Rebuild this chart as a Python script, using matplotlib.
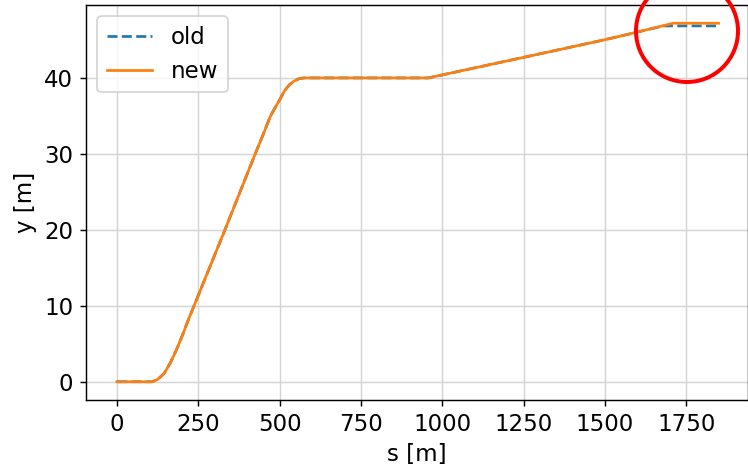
import matplotlib
matplotlib.use("Agg")
import matplotlib.pyplot as plt
from matplotlib.patches import Ellipse

plt.rcParams['font.size'] = 12.7

# track profile
s_old = [0, 108, 125, 145, 163, 183, 203, 220, 237, 332, 425, 450, 471, 485, 500, 515, 530, 545, 560, 575,
         957, 1000, 1249, 1486, 1547, 1680, 1849]
y_old = [0, 0, 0.3, 1.1, 2.4, 4.2, 6.3, 8.2, 10, 20, 30, 32.6, 34.9, 36.0, 37.1, 38.3, 39.1, 39.6, 39.9, 40,
         40, 40.4, 42.7, 44.9, 45.5, 46.85, 46.85]

s_new = [0, 108, 125, 145, 163, 183, 203, 220, 237, 332, 425, 450, 471, 485, 500, 515, 530, 545, 560, 575,
         957, 1000, 1249, 1486, 1547, 1710, 1849]
y_new = [0, 0, 0.3, 1.1, 2.4, 4.2, 6.3, 8.2, 10, 20, 30, 32.6, 34.9, 36.0, 37.1, 38.3, 39.1, 39.6, 39.9, 40,
         40, 40.4, 42.7, 44.9, 45.5, 47.2, 47.2]

fig = plt.figure(figsize=(748 / 130, 468 / 130), dpi=130)
ax = fig.add_axes([86 / 748, 1 - 400 / 468, (747.5 - 86) / 748, (400 - 5) / 468])

ax.plot(s_old, y_old, '--', color='C0', label='old')
ax.plot(s_new, y_new, '-', color='C1', label='new')

ax.set_xlim(-95, 1938)
ax.set_ylim(-2.4, 49.6)
ax.set_xticks([0, 250, 500, 750, 1000, 1250, 1500, 1750])
ax.set_yticks([0, 10, 20, 30, 40])
ax.set_xlabel('s [m]')
ax.set_ylabel('y [m]')
ax.grid(True, color='0.83')
ax.legend(loc='upper left')

# red circle marking the difference at the end
fig.add_artist(Ellipse((687 / 748, 1 - 31 / 468), 102 / 748, 102 / 468,
                       transform=fig.transFigure, fill=False,
                       edgecolor='red', linewidth=2.2, clip_on=False))

fig.savefig('out.png', dpi=130)
